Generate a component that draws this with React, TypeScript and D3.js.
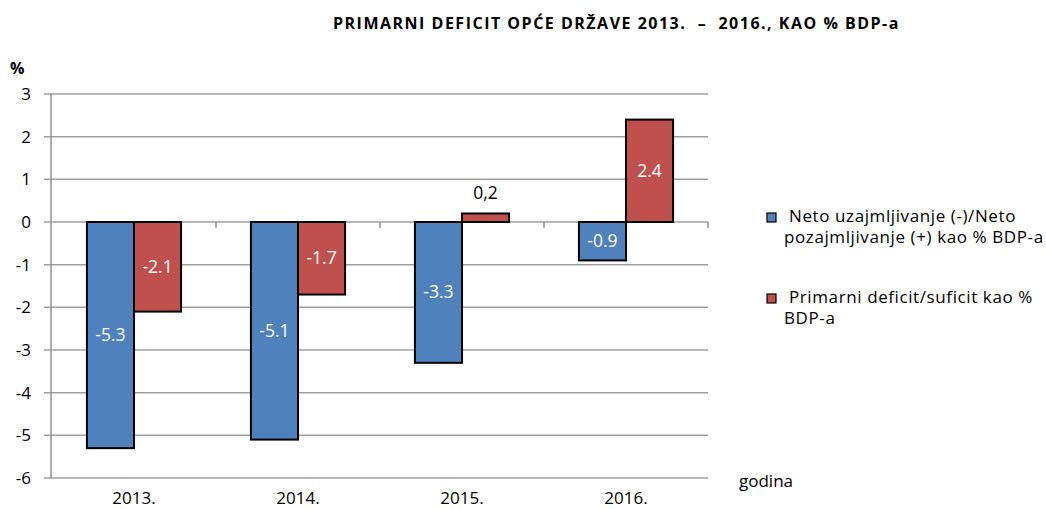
import React from "react";
import * as d3 from "d3";

const categories = ["2013.", "2014.", "2015.", "2016."];
const netoValues = [-5.3, -5.1, -3.3, -0.9];
const primarniValues = [-2.1, -1.7, 0.2, 2.4];
const netoLabels = ["-5.3", "-5.1", "-3.3", "-0.9"];
const primarniLabels = ["-2.1", "-1.7", "0,2", "2.4"];
const yTicks = [3, 2, 1, 0, -1, -2, -3, -4, -5, -6];
const seriesNames = [
  ["Neto uzajmljivanje (-)/Neto", "pozajmljivanje (+) kao % BDP-a"],
  ["Primarni deficit/suficit kao %", "BDP-a"],
];
const colors = ["#4F81BD", "#C0504D"];

const W = 1046;
const H = 509;
const left = 52;
const right = 708;
const top = 94;
const bottom = 478;
const font = "'Open Sans', sans-serif";

export default function App() {
  const x = d3.scaleBand<string>().domain(categories).range([left, right]).padding(0);
  const y = d3.scaleLinear().domain([-6, 3]).range([bottom, top]);
  const bw = x.bandwidth() * 0.287;
  const y0 = y(0);
  const series = [
    { vals: netoValues, labels: netoLabels },
    { vals: primarniValues, labels: primarniLabels },
  ];
  return (
    <svg width={W} height={H} style={{ position: "absolute", left: 0, top: 0, background: "#fff" }} fontFamily={font}>
      <text x={333} y={29} fontWeight="bold" fontSize={16} letterSpacing={1.5} fill="#000" style={{ whiteSpace: "pre" }}>
        {"PRIMARNI DEFICIT OPĆE DRŽAVE 2013.  –  2016., KAO % BDP-a"}
      </text>
      <text x={10} y={74} fontWeight="bold" fontSize={16} fill="#000">%</text>
      {yTicks.map((t) => (
        <g key={t}>
          <line x1={left - 8} x2={right} y1={y(t)} y2={y(t)} stroke="#a0a0a0" strokeWidth={1.5} />
          <text x={31} y={y(t) + 6} textAnchor="end" fontSize={17} fill="#000">{t}</text>
        </g>
      ))}
      <line x1={left - 1} x2={left - 1} y1={top} y2={bottom} stroke="#909090" strokeWidth={1.5} />
      {categories.map((c) => (
        <line key={"tk" + c} x1={x(c)! + x.bandwidth()} x2={x(c)! + x.bandwidth()} y1={y0} y2={y0 + 6} stroke="#909090" strokeWidth={1.5} />
      ))}
      {series.map((s, si) =>
        categories.map((c, i) => {
          const v = s.vals[i];
          const cx = x(c)! + x.bandwidth() / 2;
          const bx = si === 0 ? cx - bw : cx;
          const yTop = Math.min(y(v), y0);
          const h = Math.abs(y(v) - y0);
          const small = Math.abs(v) < 0.5;
          return (
            <g key={si + "-" + c}>
              <rect x={bx} y={yTop} width={bw} height={h} fill={colors[si]} stroke="#000" strokeWidth={2} />
              <text
                x={bx + bw / 2}
                y={small ? yTop - 14 : yTop + h / 2 + 6}
                textAnchor="middle"
                fontSize={17.5}
                fill={small ? "#000" : "#fff"}
              >
                {s.labels[i]}
              </text>
            </g>
          );
        })
      )}
      {categories.map((c) => (
        <text key={"xl" + c} x={x(c)! + x.bandwidth() / 2} y={504} textAnchor="middle" fontSize={17} fill="#000">{c}</text>
      ))}
      <text x={739} y={487} fontSize={17} fill="#000">godina</text>
      {seriesNames.map((lines, i) => {
        const ly = 222 + i * 81;
        return (
          <g key={"lg" + i}>
            <rect x={767} y={ly - 9} width={9} height={9} fill={colors[i]} stroke="#000" strokeWidth={1.2} />
            <text x={789} y={ly} fontSize={17} letterSpacing={0.6} fill="#000">{lines[0]}</text>
            <text x={784} y={ly + 21} fontSize={17} letterSpacing={0.6} fill="#000">{lines[1]}</text>
          </g>
        );
      })}
    </svg>
  );
}
